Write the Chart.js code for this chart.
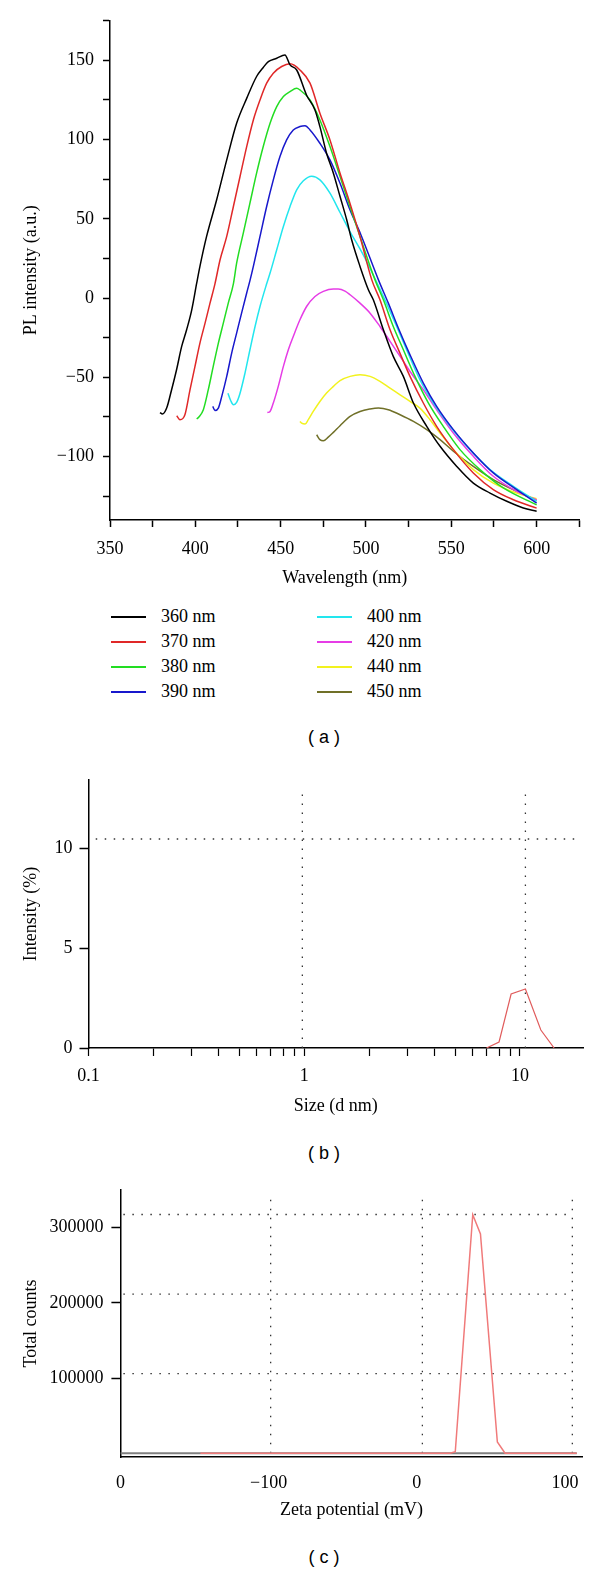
<!DOCTYPE html>
<html lang="en">
<head>
<meta charset="UTF-8">
<title>PL spectra, size distribution and zeta potential</title>
<script src="https://cdn.jsdelivr.net/npm/chart.js"></script>
<style>
  body { margin: 0; background: #fff; }
  .page { position: relative; width: 600px; height: 1572px; }
  canvas { position: absolute; left: 0; }
  .legend {
    position: absolute; left: 111px; top: 604px;
    display: grid; grid-template-columns: 206px 206px;
    grid-template-rows: repeat(4, 25px); grid-auto-flow: column;
    font-family: "Liberation Serif", serif; font-size: 18px; color: #000;
  }
  .legend div { display: flex; align-items: center; }
  .legend .line { display: inline-block; width: 35px; height: 2px; margin-right: 15px; }
  .caption {
    position: absolute; left: 224px; width: 200px; text-align: center;
    font-family: "Liberation Sans", Arial, sans-serif; font-size: 18px; line-height: 24px; color: #000;
  }
</style>
</head>
<body>
<div class="page">
  <canvas id="plChart" width="600" height="600" style="top:0"></canvas>
  <div class="legend" id="plLegend"></div>
  <div class="caption" style="top:725px">( a )</div>
  <canvas id="sizeChart" width="600" height="360" style="top:760px"></canvas>
  <div class="caption" style="top:1141px">( b )</div>
  <canvas id="zetaChart" width="600" height="360" style="top:1170px"></canvas>
  <div class="caption" style="top:1545px">( c )</div>
</div>

<script>
// (a) PL spectra, one pair of arrays per excitation wavelength
const wl360 = [379.3, 380.7, 383.2, 386.1, 389, 392, 394.9, 397.9, 400.8, 402.7, 406.6, 412.5, 418.4, 424.2, 430.1, 435.9, 439.8, 442.8, 447.7, 452.5, 455.5, 459.4, 465.2, 470.1, 473, 476.9, 480.9, 484.8, 488.7, 491.6, 496.5, 501.4, 504.3, 510.2, 516, 521.9, 527.8, 535.6, 543.4, 553.2, 562.9, 572.7, 582.5, 592.2, 600];
const pl360 = [-72.2, -73.2, -69.4, -57.8, -45.2, -30.5, -20, -7.4, 9.4, 20, 38.9, 62, 87.2, 110.3, 126, 139.8, 145.5, 149.2, 151.3, 153.4, 147.1, 143.9, 128, 118.7, 108.2, 91.4, 78.8, 64.1, 49.4, 36.8, 20, 5.3, -1.1, -20, -36.8, -49.4, -66.2, -80.9, -93.5, -106.2, -116.7, -123, -128.2, -132.4, -134.5];

const wl370 = [389.1, 391, 393.9, 396.9, 399.8, 402.7, 405.7, 408.6, 411.5, 414.5, 418.4, 422.3, 426.2, 430.1, 434, 437.9, 441.8, 445.7, 450.6, 455.5, 461.3, 467.2, 473, 478.9, 484.8, 490.6, 496.5, 503.4, 508.2, 514.1, 519.9, 525.8, 533.6, 541.4, 551.2, 562.9, 574.6, 586.4, 600];
const pl370 = [-74.2, -76.7, -73.6, -57.8, -43.1, -28.4, -15.8, -3.2, 9, 24.2, 38.9, 57.8, 76.7, 95.6, 112.4, 125, 135.6, 141.9, 146.1, 147.8, 143.9, 135.6, 116.6, 99.8, 78.8, 59.9, 38.8, 11.5, -1.1, -20, -34.7, -49.4, -66.2, -80.9, -95.6, -110.3, -120.8, -127.2, -132.5];

const wl380 = [400.8, 402.1, 404.7, 407.6, 410.5, 413.5, 416.4, 419.3, 422.3, 424.2, 428.1, 432, 435.9, 439.8, 443.8, 447.7, 451.6, 455.5, 459.4, 461.3, 467.2, 473, 478.9, 484.8, 490.6, 496.5, 505.3, 510.2, 516, 521.9, 528.7, 536.6, 545.3, 555.1, 566.8, 580.5, 600];
const pl380 = [-76.3, -75, -70.4, -57.8, -43.1, -28.4, -15.8, -3.2, 9, 22, 41, 59.9, 78.8, 95.6, 110.3, 120.8, 127.2, 130.3, 132.4, 131.3, 125, 112.4, 95.6, 76.7, 57.8, 38.8, 11.5, -1.1, -17.9, -32.6, -49.4, -66.2, -80.9, -95.6, -108.2, -119.8, -130.5];

const wl390 = [410.2, 411.5, 413.5, 415.5, 418.4, 421.3, 424.2, 427.1, 430.1, 432, 434, 437.9, 441.8, 445.7, 449.6, 453.5, 457.4, 461.3, 464.3, 467.2, 473, 478.9, 484.8, 490.6, 497, 507.3, 513.1, 519, 525.8, 533.6, 541.4, 551.2, 562.9, 574.6, 588.3, 600];
const pl390 = [-68.3, -70.9, -69.4, -62, -49.4, -34.7, -22.1, -9.5, 3.2, 11, 20, 38.9, 57.8, 74.6, 89.3, 99.8, 106.1, 108.2, 108.7, 106.1, 97.7, 87.2, 72.4, 55.7, 40, 11.5, -3.2, -19, -35.8, -53.6, -68.3, -83, -97.7, -110.3, -120.8, -129.3];

const wl400 = [419.1, 420.7, 422.3, 424.2, 426.2, 429.1, 432, 435, 437.9, 441.8, 443.8, 447.7, 451.6, 455.5, 459.4, 463.3, 468.2, 473, 478.9, 484.8, 490.6, 496.5, 500, 506.3, 512.1, 518, 523.8, 531.6, 539.5, 549.2, 560.9, 572.7, 586.4, 600];
const pl400 = [-60, -64.6, -67.3, -65.8, -60, -47.3, -32.6, -17.9, -5.3, 9, 15.8, 30.5, 45.2, 57.8, 68.3, 74, 76.9, 74.6, 66.2, 54, 42, 31, 24, 10, -3.5, -17.9, -32.6, -51.5, -66.2, -80.9, -95.6, -108.2, -118.8, -128.3];

const wl420 = [442.2, 443.8, 445.7, 448.6, 451.6, 454.5, 457.4, 461.3, 465.2, 470.1, 475, 480.9, 483.8, 487.7, 490.7, 496.5, 502.4, 508.2, 514.1, 520, 525.8, 533.6, 541.4, 551.2, 562.9, 574.6, 588.3, 600];
const pl420 = [-72.2, -71.5, -66.2, -55.7, -43.1, -32.6, -24.2, -13.7, -5.3, 1, 4.2, 5.7, 5.7, 4.4, 2.1, -3.2, -9.5, -17.9, -27.3, -36.8, -46.3, -57.8, -70.4, -85.1, -99.8, -112.4, -121.9, -127.3];

const wl440 = [461.3, 462.3, 464.3, 466.2, 469.1, 473, 476.9, 480.9, 484.8, 490.7, 496.5, 502.4, 508.2, 514.1, 520, 525.8, 531.6, 537.5, 543.4, 551.2, 562.9, 574.6, 588.3, 600];
const pl440 = [-77.8, -78.9, -79.5, -76.7, -71.5, -65.2, -59.9, -55.7, -52, -49.4, -48.4, -49.4, -52.5, -56.8, -61, -65.2, -69.4, -76.7, -85.1, -95.6, -108.2, -116.7, -123, -126.5];

const wl450 = [471.1, 473, 475, 477.9, 480.9, 484.8, 490.7, 496.5, 502.4, 507.3, 513.1, 520, 527.8, 535.6, 543.4, 551.2, 562.9, 574.6, 588.3, 600];
const pl450 = [-86.2, -89.3, -90, -87.7, -84.7, -80.5, -74.6, -71.5, -70, -69.4, -70.4, -73.6, -77.8, -83, -89.3, -96.6, -106.2, -114.5, -121.9, -127.6];

const seriesNames = ['360 nm', '370 nm', '380 nm', '390 nm', '400 nm', '420 nm', '440 nm', '450 nm'];
const seriesColors = ['#000000', '#e02828', '#22dd22', '#1818cc', '#22e6ee', '#e63ce6', '#f2f21e', '#707028'];
const seriesX = [wl360, wl370, wl380, wl390, wl400, wl420, wl440, wl450];
const seriesY = [pl360, pl370, pl380, pl390, pl400, pl420, pl440, pl450];

// (b) size distribution
const sizeNm = [7.0, 8.0, 9.1, 10.6, 12.5, 14.4];
const sizeIntensity = [0, 0.3, 2.7, 2.95, 0.9, 0];
const sizeTicks = [0.1, 0.2, 0.3, 0.4, 0.5, 0.6, 0.7, 0.8, 0.9, 1, 2, 3, 4, 5, 6, 7, 8, 9, 10];
const sizeLabels = [0.1, 1, 10];
const sizeGridX = [0.98, 10.6];
const sizeGridY = [10.45];

// (c) zeta potential
const zetaMv = [-146, 22.5, 26, 37.8, 43, 54.4, 59.6, 108];
const zetaCounts = [0, 0, 2000, 317000, 291700, 15000, 0, 0];
const zetaTicks = [-200, -100, 0, 100];
const zetaTickLabels = ['0', '\u2212100', '0', '100'];
const countTicks = [100000, 200000, 300000];
const zetaGridX = [-98.6, 3.8, 105];
const zetaGridY = [105800, 211600, 317400];

const serif = '"Liberation Serif", "Times New Roman", serif';
const tickFont = { family: serif, size: 18 };
const minus = v => (v < 0 ? '\u2212' + Math.abs(v) : String(v));

function axisBase(extra) {
    return Object.assign({
        border: { color: '#000', width: 1.5 },
        grid: { drawOnChartArea: false, tickLength: 7, tickColor: '#000', tickWidth: 1.5 },
    }, extra);
}

function dotted(points) {
    return {
        data: points, borderColor: '#333', borderWidth: 1.3, borderDash: [1.5, 7.5],
        pointRadius: 0, fill: false, tension: 0
    };
}

// ---------- (a) ----------
const plDatasets = seriesNames.map((name, i) => ({
    label: name,
    data: seriesX[i].map((x, j) => ({ x: x, y: seriesY[i][j] })),
    borderColor: seriesColors[i],
    borderWidth: 1.5,
    pointRadius: 0,
    fill: false,
    cubicInterpolationMode: 'monotone'
}));

new Chart(document.getElementById('plChart'), {
    type: 'line',
    data: { datasets: plDatasets },
    options: {
        responsive: false,
        animation: false,
        layout: { padding: { top: 20.7, right: 20.7, bottom: 11.2, left: 0 } },
        plugins: { legend: { display: false }, tooltip: { enabled: false } },
        scales: {
            x: axisBase({
                type: 'linear', min: 350, max: 625,
                afterFit: s => { s.height = 68.8; },
                ticks: { stepSize: 25, autoSkip: false, maxRotation: 0, includeBounds: false, padding: 11,
                         color: '#000', font: tickFont, callback: v => (v % 50 === 0 ? minus(v) : '') },
                title: { display: true, text: 'Wavelength (nm)', color: '#000', font: tickFont, padding: 0 }
            }),
            y: axisBase({
                min: -140, max: 175,
                afterFit: s => { s.width = 110; },
                ticks: { stepSize: 25, autoSkip: false, includeBounds: false, padding: 9,
                         color: '#000', font: tickFont, callback: v => (v % 50 === 0 ? minus(v) : '') },
                title: { display: true, text: 'PL intensity (a.u.)', color: '#000', font: tickFont, padding: { top: 20, bottom: 0 } }
            })
        }
    }
});

const legendBox = document.getElementById('plLegend');
seriesNames.forEach((name, i) => {
    const item = document.createElement('div');
    const line = document.createElement('span');
    line.className = 'line';
    line.style.background = seriesColors[i];
    item.appendChild(line);
    item.appendChild(document.createTextNode(name));
    legendBox.appendChild(item);
});

// ---------- (b) ----------
const sizeDatasets = [
    { data: sizeNm.map((x, i) => ({ x: x, y: sizeIntensity[i] })), borderColor: '#e05c5c',
      borderWidth: 1.2, pointRadius: 0, fill: false, tension: 0 }
];
sizeGridX.forEach(x => sizeDatasets.push(dotted([{ x: x, y: 0 }, { x: x, y: 13.05 }])));
sizeGridY.forEach(y => sizeDatasets.push(dotted([{ x: 0.108, y: y }, { x: 19.3, y: y }])));

new Chart(document.getElementById('sizeChart'), {
    type: 'line',
    data: { datasets: sizeDatasets },
    options: {
        responsive: false,
        animation: false,
        layout: { padding: { top: 20, right: 17, bottom: 3.2, left: 0 } },
        plugins: { legend: { display: false }, tooltip: { enabled: false } },
        scales: {
            x: axisBase({
                type: 'logarithmic', min: 0.1, max: 19.6,
                afterFit: s => { s.height = 68.8; },
                afterBuildTicks: s => { s.ticks = sizeTicks.map(v => ({ value: v })); },
                grid: { drawOnChartArea: false, tickLength: 8, tickColor: '#000', tickWidth: 1.2 },
                ticks: { autoSkip: false, maxRotation: 0, padding: 9, color: '#000', font: tickFont,
                         callback: v => (sizeLabels.includes(v) ? String(v) : '') },
                title: { display: true, text: 'Size (d nm)', color: '#000', font: tickFont, padding: 0 }
            }),
            y: axisBase({
                min: 0, max: 13.4,
                afterFit: s => { s.width = 88.5; },
                grid: { drawOnChartArea: false, tickLength: 9, tickColor: '#000', tickWidth: 1.5 },
                ticks: { stepSize: 5, autoSkip: false, includeBounds: false, padding: 7, color: '#000', font: tickFont },
                title: { display: true, text: 'Intensity (%)', color: '#000', font: tickFont, padding: { top: 20, bottom: 0 } }
            })
        }
    }
});

// ---------- (c) ----------
const zetaDatasets = [
    { data: zetaMv.map((x, i) => ({ x: x, y: zetaCounts[i] })), borderColor: '#f07a7a',
      borderWidth: 1.5, pointRadius: 0, fill: false, tension: 0 },
    { data: [{ x: -200, y: 0 }, { x: 108, y: 0 }], borderColor: '#808080',
      borderWidth: 2, pointRadius: 0, fill: false, tension: 0 }
];
zetaGridX.forEach(x => zetaDatasets.push(dotted([{ x: x, y: 0 }, { x: x, y: 340000 }])));
zetaGridY.forEach(y => zetaDatasets.push(dotted([{ x: -198, y: y }, { x: 105.6, y: y }])));

new Chart(document.getElementById('zetaChart'), {
    type: 'line',
    data: { datasets: zetaDatasets },
    options: {
        responsive: false,
        animation: false,
        layout: { padding: { top: 20, right: 17.3, bottom: 9.2, left: 0 } },
        plugins: { legend: { display: false }, tooltip: { enabled: false } },
        scales: {
            x: axisBase({
                type: 'linear', min: -200, max: 112,
                afterFit: s => { s.height = 63.8; },
                afterBuildTicks: s => { s.ticks = zetaTicks.map(v => ({ value: v })); },
                grid: { drawOnChartArea: false, drawTicks: false },
                ticks: { autoSkip: false, maxRotation: 0, padding: 15, color: '#000', font: tickFont,
                         callback: (v, i) => zetaTickLabels[i] },
                title: { display: true, text: 'Zeta potential (mV)', color: '#000', font: tickFont, padding: 0 }
            }),
            y: axisBase({
                min: -5000, max: 350000,
                afterFit: s => { s.width = 120.4; },
                afterBuildTicks: s => { s.ticks = countTicks.map(v => ({ value: v })); },
                grid: { drawOnChartArea: false, tickLength: 9, tickColor: '#000', tickWidth: 1.5 },
                ticks: { autoSkip: false, padding: 8, color: '#000', font: tickFont, callback: v => String(v) },
                title: { display: true, text: 'Total counts', color: '#000', font: tickFont, padding: { top: 20, bottom: 0 } }
            })
        }
    }
});
</script>
</body>
</html>
